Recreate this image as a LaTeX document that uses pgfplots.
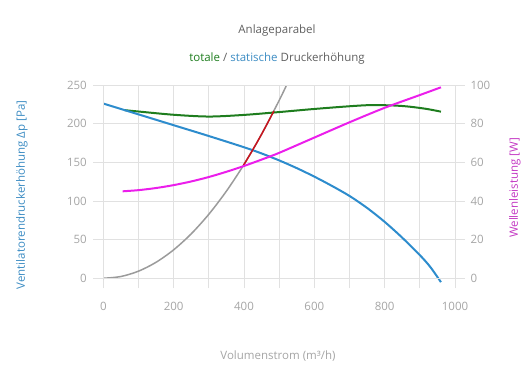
\documentclass[border=0pt]{standalone}
\usepackage{pgfplots}
\pgfplotsset{compat=1.18}
\usepackage{fontspec}
\setmainfont{Open Sans}
\definecolor{gridc}{RGB}{225,225,225}
\definecolor{tickc}{RGB}{165,165,165}
\definecolor{titlec}{RGB}{95,95,95}
\definecolor{cgreen}{RGB}{30,125,30}
\definecolor{cblue}{RGB}{45,140,205}
\definecolor{cmag}{RGB}{235,30,235}
\definecolor{cgray}{RGB}{155,155,155}
\definecolor{cred}{RGB}{200,20,30}
\definecolor{lblue}{RGB}{60,140,195}
\definecolor{lmag}{RGB}{195,55,195}
\pgfplotsset{
  myax/.style={
    scale only axis, width=351.7pt, height=193.3pt,
    at={(103.3pt,111.7pt)}, anchor=south west,
    xmin=0, xmax=1000,
    axis line style={draw=gridc, line width=0.8pt},
    tick style={draw=gridc, line width=0.8pt},
    major tick length=10pt, tick align=outside,
    tick label style={font=\fontsize{11.5}{13}\selectfont, text=tickc},
    /pgf/number format/assume math mode=true,
  }
}
\begin{document}
\begin{tikzpicture}
\path[use as bounding box] (0pt,0pt) rectangle (530pt,390pt);
\begin{axis}[myax,
  ymin=0, ymax=250,
  xtick={0,100,...,1000},
  xticklabels={0,,200,,400,,600,,800,,1000},
  ytick={0,50,...,250},
  xtick pos=bottom, ytick pos=left,
  xticklabel shift=10pt, yticklabel shift=3pt,
  grid=major, major grid style={draw=gridc, line width=0.8pt},
  clip=false,
]
% Anlageparabel (grau)
\addplot[cgray, line width=1.5pt, smooth] coordinates {
 (0,0) (50,2.3) (100,9.2) (150,20.7) (200,36.8) (250,57.5) (300,82.8)
 (350,112.7) (400,147.2) (450,186.3) (500,230) (520,248.8)};
% totale Druckerhoehung
\addplot[cgreen, line width=2pt, smooth] coordinates {
 (60,217.5) (100,215.7) (200,211.5) (300,209.2) (400,211.3) (500,215) (600,219)
 (700,222.5) (760,224) (825,223.5) (870,222) (920,219) (960,215.5)};
% statische Druckerhoehung
\addplot[cblue, line width=2pt, smooth] coordinates {
 (0,226) (100,212) (200,198) (300,184) (400,169.5) (450,161.5) (500,152.5)
 (550,142.5) (600,131.5) (650,119.5) (700,106.5) (750,91) (800,73)
 (850,52.5) (900,30) (930,14.5) (960,-5)};
% Betriebsbereich (rot)
\addplot[cred, line width=1.5pt, smooth] coordinates {
 (398,145.7) (420,162.3) (440,178.1) (460,194.7) (485,216.4)};
\end{axis}
\begin{axis}[myax,
  ymin=0, ymax=100,
  xtick=\empty,
  ytick={0,20,...,100},
  ytick pos=right,
  yticklabel shift=2pt,
  clip=false,
]
\addplot[cmag, line width=2pt, smooth] coordinates {
 (55,45) (100,45.6) (150,46.7) (200,48.2) (250,50.1) (300,52.4) (350,55.1)
 (400,58.1) (450,61.4) (500,64.9) (600,72.8) (700,80.7) (800,88.2)
 (900,94.8) (960,98.8)};
\end{axis}
\node[text=titlec, font=\fontsize{11.5}{13}\selectfont] at (277pt,359pt) {Anlageparabel};
\node[text=titlec, font=\fontsize{11.5}{13}\selectfont] at (277pt,331pt) {\textcolor{cgreen}{totale} / \textcolor{lblue}{statische} Druckerhöhung};
\node[text=tickc, font=\fontsize{11.5}{13}\selectfont] at (278pt,34pt) {Volumenstrom (m³/h)};
\node[text=lblue, font=\fontsize{11.5}{13}\selectfont, rotate=90] at (22pt,195pt) {Ventilatorendruckerhöhung Δp [Pa]};
\node[text=lmag, font=\fontsize{11.5}{13}\selectfont, rotate=90] at (515pt,202pt) {Wellenleistung [W]};
\end{tikzpicture}
\end{document}
